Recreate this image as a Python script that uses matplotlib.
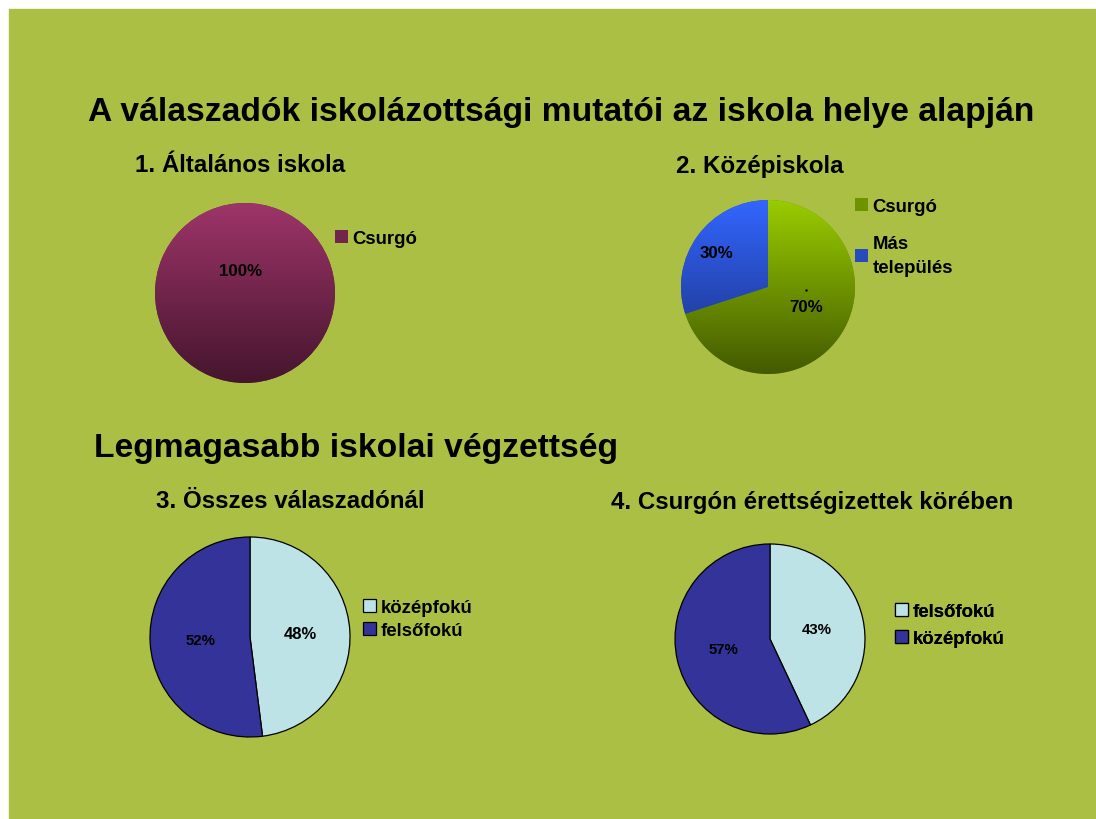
import matplotlib.pyplot as plt
import matplotlib.colors as mcolors
import numpy as np

plt.rcParams['font.family'] = ['Liberation Sans', 'DejaVu Sans']

W, H = 1096, 820

title_main = "A válaszadók iskolázottsági mutatói az iskola helye alapján"
title_second = "Legmagasabb iskolai végzettség"

titles = ["1. Általános iskola", "2. Középiskola",
          "3. Összes válaszadónál", "4. Csurgón érettségizettek körében"]

labels1 = ["Csurgó"]
values1 = [100]
labels2 = ["Csurgó", "Más\ntelepülés"]
values2 = [70, 30]
labels3 = ["középfokú", "felsőfokú"]
values3 = [48, 52]
labels4 = ["felsőfokú", "középfokú"]
values4 = [43, 57]

# (top colour, bottom colour) gradients for the first row
grad1 = [("#9e3569", "#45152d")]
grad2 = [("#99cc00", "#435a00"), ("#3366ff", "#1a2e7a")]
flat34 = ["#bde3e6", "#333399"]

fig = plt.figure(figsize=(W / 100, H / 100), dpi=100, facecolor="white")
ax = fig.add_axes([0, 0, 1, 1])
ax.set_xlim(0, W)
ax.set_ylim(0, H)
ax.set_aspect("equal")
ax.axis("off")

ax.add_patch(plt.Rectangle((9, 0), W - 9, H - 10, color="#abbf45", zorder=0))


def Y(y):
    return H - y


def gradPie(values, grads, cx, cy, r):
    mids = [mcolors.to_hex(np.mean([mcolors.to_rgb(a), mcolors.to_rgb(b)], axis=0)) for a, b in grads]
    wedges, _ = ax.pie(values, colors=mids, center=(cx, Y(cy)), radius=r,
                       startangle=90, counterclock=False, frame=True,
                       wedgeprops=dict(linewidth=0))
    for w, (top, bot) in zip(wedges, grads):
        cmap = mcolors.LinearSegmentedColormap.from_list("g", [bot, top])
        grad = np.linspace(0, 1, 256).reshape(-1, 1)
        im = ax.imshow(grad, cmap=cmap, origin="lower", aspect="auto",
                       extent=(cx - r, cx + r, Y(cy) - r, Y(cy) + r), zorder=2)
        im.set_clip_path(w)
    return wedges


def flatPie(values, colors, cx, cy, r):
    wedges, _, pcts = ax.pie(values, colors=colors, center=(cx, Y(cy)), radius=r,
                             startangle=90, counterclock=False, frame=True,
                             autopct="%d%%", pctdistance=0.5,
                             wedgeprops=dict(linewidth=0.9, edgecolor="black"),
                             textprops=dict(fontsize=10.8, fontweight="bold", color="black"))
    return wedges, pcts


w1 = gradPie(values1, grad1, 245, 294, 90)
w2 = gradPie(values2, grad2, 768, 288, 87)
w3, p3 = flatPie(values3, flat34, 250, 638, 100)
w4, p4 = flatPie(values4, flat34, 770, 640, 95)

for p in list(p3) + list(p4):
    p.set_zorder(5)
p3[0].set_fontsize(12)

ax.text(241, Y(272), f"{values1[0]}%", fontsize=12.2, fontweight="bold", ha="center", va="center", zorder=5)
ax.text(806, Y(307), f"{values2[0]}%", fontsize=12.2, fontweight="bold", ha="center", va="center", zorder=5)
ax.text(716, Y(254), f"{values2[1]}%", fontsize=12.2, fontweight="bold", ha="center", va="center", zorder=5)
ax.plot([806], [Y(291)], marker=".", ms=1.5, color="black", zorder=5)

ax.text(561, Y(112), title_main, fontsize=24.2, fontweight="bold", ha="center", va="center")
ax.text(356, Y(449), title_second, fontsize=24.2, fontweight="bold", ha="center", va="center")

ax.text(240, Y(166), titles[0], fontsize=17.4, fontweight="bold", ha="center", va="center")
ax.text(760, Y(166), titles[1], fontsize=17.4, fontweight="bold", ha="center", va="center")
ax.text(290, Y(502), titles[2], fontsize=17.4, fontweight="bold", ha="center", va="center")
ax.text(812, Y(502), titles[3], fontsize=17.4, fontweight="bold", ha="center", va="center")


def addLegend(wedges, labels, x, y, spacing, size=13.4, linesp=1.35):
    leg = ax.legend(wedges, labels, loc="upper left", bbox_to_anchor=(x / W, 1 - y / H),
                    frameon=False, handlelength=0.7, handleheight=0.7, handletextpad=0.25,
                    labelspacing=spacing, borderaxespad=0, borderpad=0,
                    prop=dict(size=size, weight="bold"))
    for t in leg.get_texts():
        t.set_linespacing(linesp)
    ax.add_artist(leg)
    return leg


addLegend(w1, labels1, 335, 231, 0.5)
addLegend(w2, labels2, 855, 199, 1.1, linesp=1.5)
addLegend(w3, labels3, 363, 600, 0.3)
addLegend(w4, labels4, 895, 604, 0.55)

fig.savefig("out.png", dpi=100, facecolor=fig.get_facecolor())
